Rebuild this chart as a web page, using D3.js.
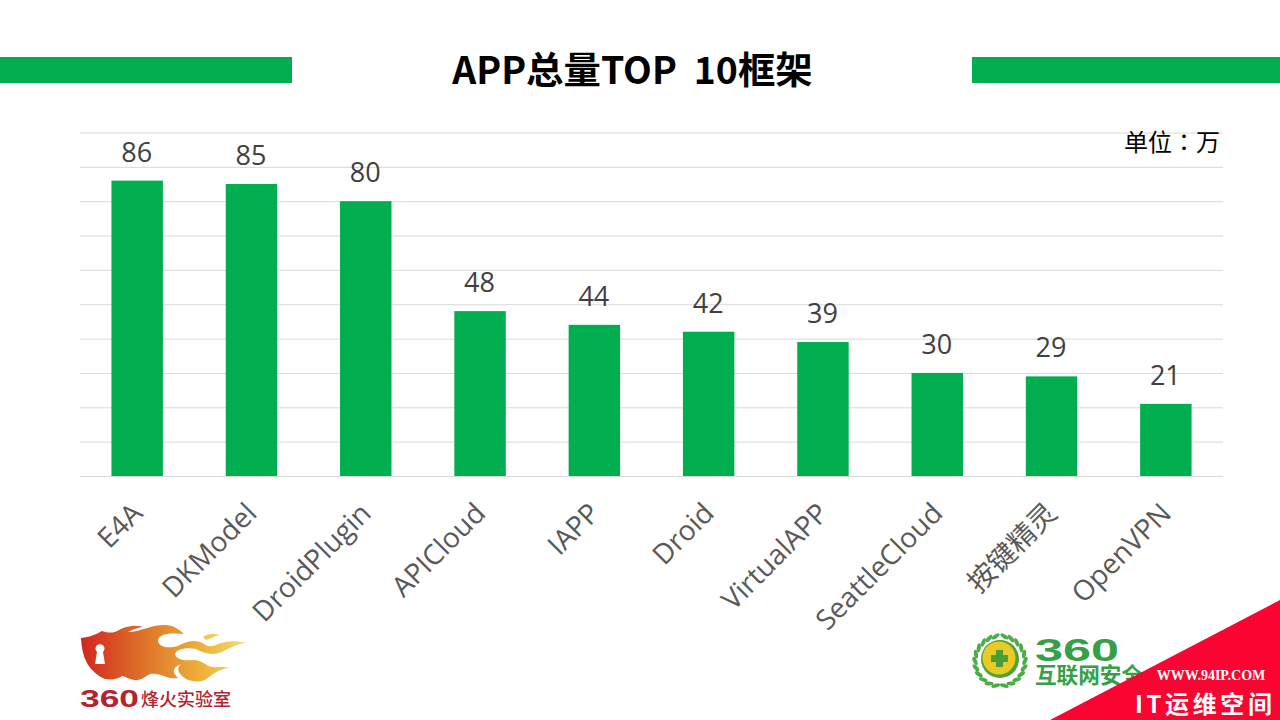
<!DOCTYPE html>
<html><head><meta charset="utf-8">
<script src="https://cdn.jsdelivr.net/npm/d3@7"></script>
<style>html,body{margin:0;background:#fff;overflow:hidden}svg{display:block}</style>
</head><body><svg id="c" width="1280" height="720"></svg>
<script>
const categories=["E4A","DKModel","DroidPlugin","APICloud","IAPP","Droid","VirtualAPP","SeattleCloud","按键精灵","OpenVPN"];
const values=[86,85,80,48,44,42,39,30,29,21];
const gridTicks=[0,10,20,30,40,50,60,70,80,90,100];
const titleText="APP总量TOP  10框架";
const unitText="单位：万";
const GREEN="#00ae4f";
const CJK='"Noto Sans CJK SC","Open Sans",sans-serif';
const LAT='"Open Sans","Noto Sans CJK SC",sans-serif';
const svg=d3.select("#c");
const x=d3.scaleBand().domain(categories).range([80,1223]).paddingInner(0.55).paddingOuter(0.275);
const y=d3.scaleLinear().domain([0,100]).range([476,132.5]);
svg.append("rect").attr("x",0).attr("y",57).attr("width",292).attr("height",26).attr("fill",GREEN);
svg.append("rect").attr("x",972).attr("y",57).attr("width",308).attr("height",26).attr("fill",GREEN);
svg.append("text").attr("x",632.5).attr("y",84).attr("text-anchor","middle").attr("font-family",CJK).attr("font-weight",700).attr("font-size",37.4).attr("fill","#000").style("white-space","pre").text(titleText);
const gy=d3.axisLeft(y).tickValues(gridTicks).tickSize(-(1223-80)).tickFormat("");
const g=svg.append("g").attr("transform","translate(80,0)").call(gy);
g.select(".domain").remove();
g.selectAll("line").attr("stroke","#d9d9d9").attr("stroke-width",1);
svg.selectAll("rect.b").data(values).enter().append("rect").attr("class","b")
 .attr("x",(d,i)=>x(categories[i])).attr("width",x.bandwidth())
 .attr("y",d=>y(d)).attr("height",d=>y(0)-y(d)).attr("fill",GREEN);
svg.selectAll("text.v").data(values).enter().append("text").attr("class","v")
 .attr("x",(d,i)=>x(categories[i])+x.bandwidth()/2-0.5).attr("y",d=>y(d)-19)
 .attr("text-anchor","middle").attr("font-family",LAT).attr("font-size",27).attr("fill","#404040").text(d=>d);
svg.selectAll("text.c").data(categories).enter().append("text").attr("class","c")
 .attr("transform",d=>`translate(${x(d)+x.bandwidth()/2+7},${y(0)+39}) rotate(-45)`)
 .attr("text-anchor","end").attr("font-family",LAT).attr("font-size",28).attr("fill","#595959").text(d=>d);
svg.append("text").attr("x",1220).attr("y",151).attr("text-anchor","end").attr("font-family",'"Noto Sans CJK TC",sans-serif').attr("font-size",24).attr("fill","#000").text(unitText);
// left logo
const defs=svg.append("defs");
const lg=defs.append("linearGradient").attr("id","fl");
[[0,"#d2261f"],[0.4,"#e0762a"],[0.75,"#eeb43c"],[1,"#f5dc70"]].forEach(s=>lg.append("stop").attr("offset",s[0]).attr("stop-color",s[1]));
const L=svg.append("g");
L.append("path").attr("fill","url(#fl)").attr("d","M81 638 C90 637 97 634 102 631 C108 633 113 633 117 631 C124 627 134 624 143 627 C136 628 130 631 128 632 C140 632 150 625 165 625 C173 625 179 629 184 634 C172 633 160 633 158 640 C158 647 168 649 178 646 C188 641 196 639 204 644 C208 647 213 647 218 644 C226 641 236 640 246 643 C236 644 230 648 222 652 C212 656 204 653 196 649 C186 647 177 649 175 654 C176 660 186 661 194 660 C202 660 206 666 212 667 C218 668 224 666 229 668 C220 669 214 673 208 678 C202 683 192 682 186 679 C178 674 176 668 181 664 C172 668 172 672 178 678 C168 680 160 672 150 674 C145 677 140 681 134 680 C128 679 125 676 122 676 C118 679 112 680 105 679 C90 672 82 660 81 638Z");
L.append("path").attr("fill","#fff").attr("d","M97 652 A4.5 4.5 0 1 1 103 652 L105 664 L95 664Z");
L.append("path").attr("fill","#f4c94f").attr("d","M203 637 C209 633 215 634 220 635 C214 636 210 639 206 640Z");
L.append("text").attr("x",80).attr("y",707).attr("font-family","Liberation Sans,sans-serif").attr("font-weight",700).attr("font-size",24).attr("textLength",59).attr("lengthAdjust","spacingAndGlyphs").attr("fill","#b5232e").text("360");
L.append("text").attr("x",141).attr("y",706).attr("font-family",CJK).attr("font-weight",500).attr("font-size",18).attr("fill","#b5232e").text("烽火实验室");
// right logo
const R=svg.append("g");
const leaves=d3.range(-80,81,16);
[-1,1].forEach(s=>leaves.forEach(a=>{
  const px=1000+s*25*Math.cos(a*Math.PI/180), py=661+25*Math.sin(a*Math.PI/180);
  R.append("ellipse").attr("cx",px).attr("cy",py).attr("rx",2).attr("ry",4.5).attr("fill","#4cac45")
   .attr("transform",`rotate(${s*(a+25)} ${px} ${py})`);
}));
R.append("circle").attr("cx",1000).attr("cy",659).attr("r",19).attr("fill","#4da23b");
R.append("circle").attr("cx",999).attr("cy",658).attr("r",16.5).attr("fill","#e9cb24");
R.append("path").attr("fill","#4a9e3a").attr("d","M996 650 h7 v5 h5 v7 h-5 v5 h-7 v-5 h-5 v-7 h5Z");
R.append("text").attr("x",1035).attr("y",661).attr("font-family","Liberation Sans,sans-serif").attr("font-weight",700).attr("font-size",31).attr("textLength",84).attr("lengthAdjust","spacingAndGlyphs").attr("fill","#36a048").text("360");
R.append("text").attr("x",1035).attr("y",683).attr("font-family",CJK).attr("font-weight",700).attr("font-size",21.6).attr("fill","#36a048").text("互联网安全");
// watermark
svg.append("path").attr("d","M1050 720 L1280 600 L1280 720Z").attr("fill","#fb0431");
svg.append("text").attr("x",1211).attr("y",680).attr("text-anchor","middle").attr("font-family","Liberation Serif,serif").attr("font-weight",700).attr("font-size",14).attr("fill","#fff").text("WWW.94IP.COM");
svg.append("text").attr("x",1135).attr("y",713).attr("font-family",CJK).attr("font-weight",700).attr("font-size",24).attr("letter-spacing",3.6).attr("fill","#fff").text("IT运维空间");
</script></body></html>
